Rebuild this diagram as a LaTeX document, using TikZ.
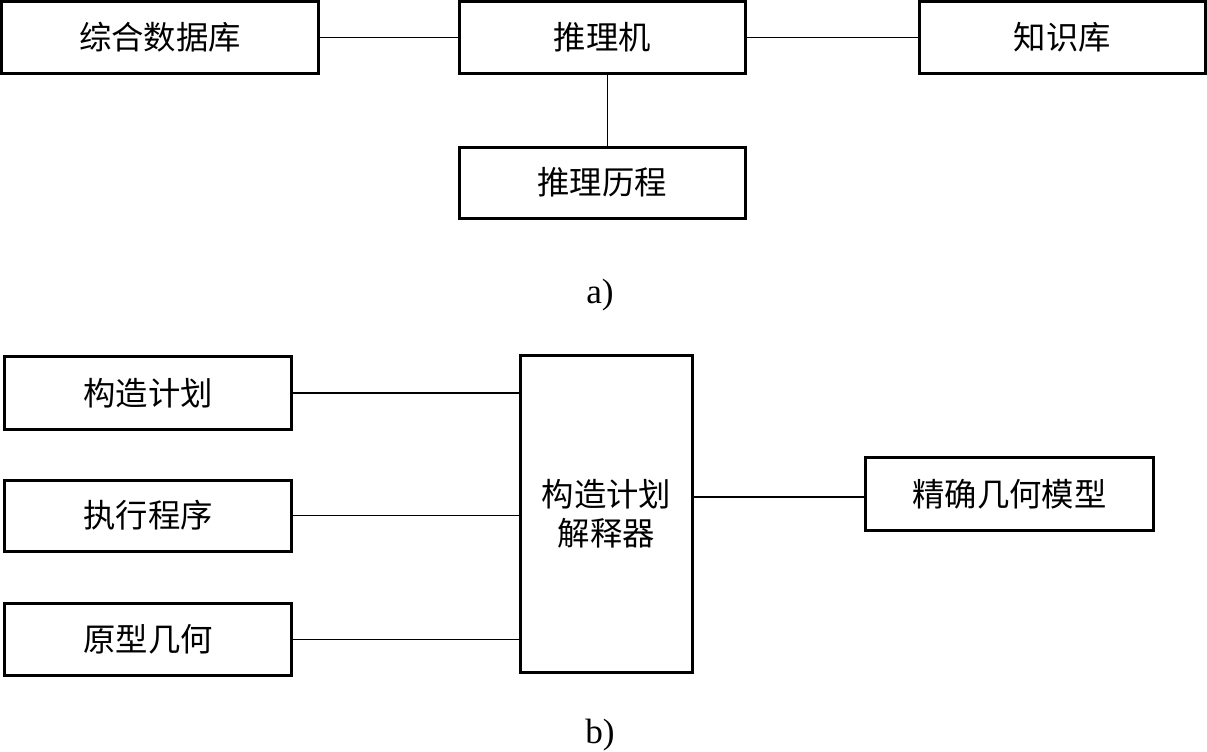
\documentclass[tikz,border=0pt]{standalone}
\usepackage{fontspec}
\setmainfont{Liberation Serif}
\newfontfamily\cjk{Noto Sans CJK SC}
\usepackage{tikz}
\usetikzlibrary{positioning}
\tikzstyle{block} = [rectangle, draw=black, line width=0.85pt, inner sep=0pt, minimum width=2.86cm, minimum height=0.71cm, text centered, font=\cjk\fontsize{9.2}{11}\selectfont]
\tikzstyle{wire} = [line width=0.35pt]

\begin{document}
\begin{tikzpicture}[x=0.01cm, y=-0.01cm, every text node part/.style={align=center}]
    \useasboundingbox (0,0) rectangle (1207,751);

    % part a)
    \node (db) [block, minimum width=3.16cm] at (160,37.5) {综合数据库};
    \node (engine) [block, right=1.38cm of db] {推理机};
    \node (kb) [block, right=1.71cm of engine] {知识库};
    \node (hist) [block, below=0.71cm of engine] {推理历程};
    \node (labA) at (600,295) {\fontsize{10}{12}\selectfont a)};

    \draw [wire] (db) -- (engine);
    \draw [wire] (engine) -- (kb);
    \draw [wire] ([xshift=0.05cm]engine.south) -- ([xshift=0.05cm]hist.north);

    % part b)
    \node (plan) [block, minimum height=0.72cm] at (148,393) {构造计划};
    \node (exec) [block, below=0.48cm of plan] {执行程序};
    \node (proto) [block, minimum height=0.72cm, below=0.49cm of exec] {原型几何};
    \node (interp) [block, minimum width=1.71cm, minimum height=3.16cm] at (606.5,514) {构造计划\\解释器};
    \node (model) [block, minimum width=2.87cm, minimum height=0.72cm] at (1009.5,494) {精确几何模型};
    \node (labB) at (600,735) {\fontsize{10}{12}\selectfont b)};

    \draw [wire] (plan.east) -- (plan.east -| interp.west);
    \draw [wire] (exec.east) -- (exec.east -| interp.west);
    \draw [wire] (proto.east) -- (proto.east -| interp.west);
    \draw [wire] ([yshift=-0.03cm]model.west -| interp.east) -- ([yshift=-0.03cm]model.west);

\end{tikzpicture}
\end{document}
